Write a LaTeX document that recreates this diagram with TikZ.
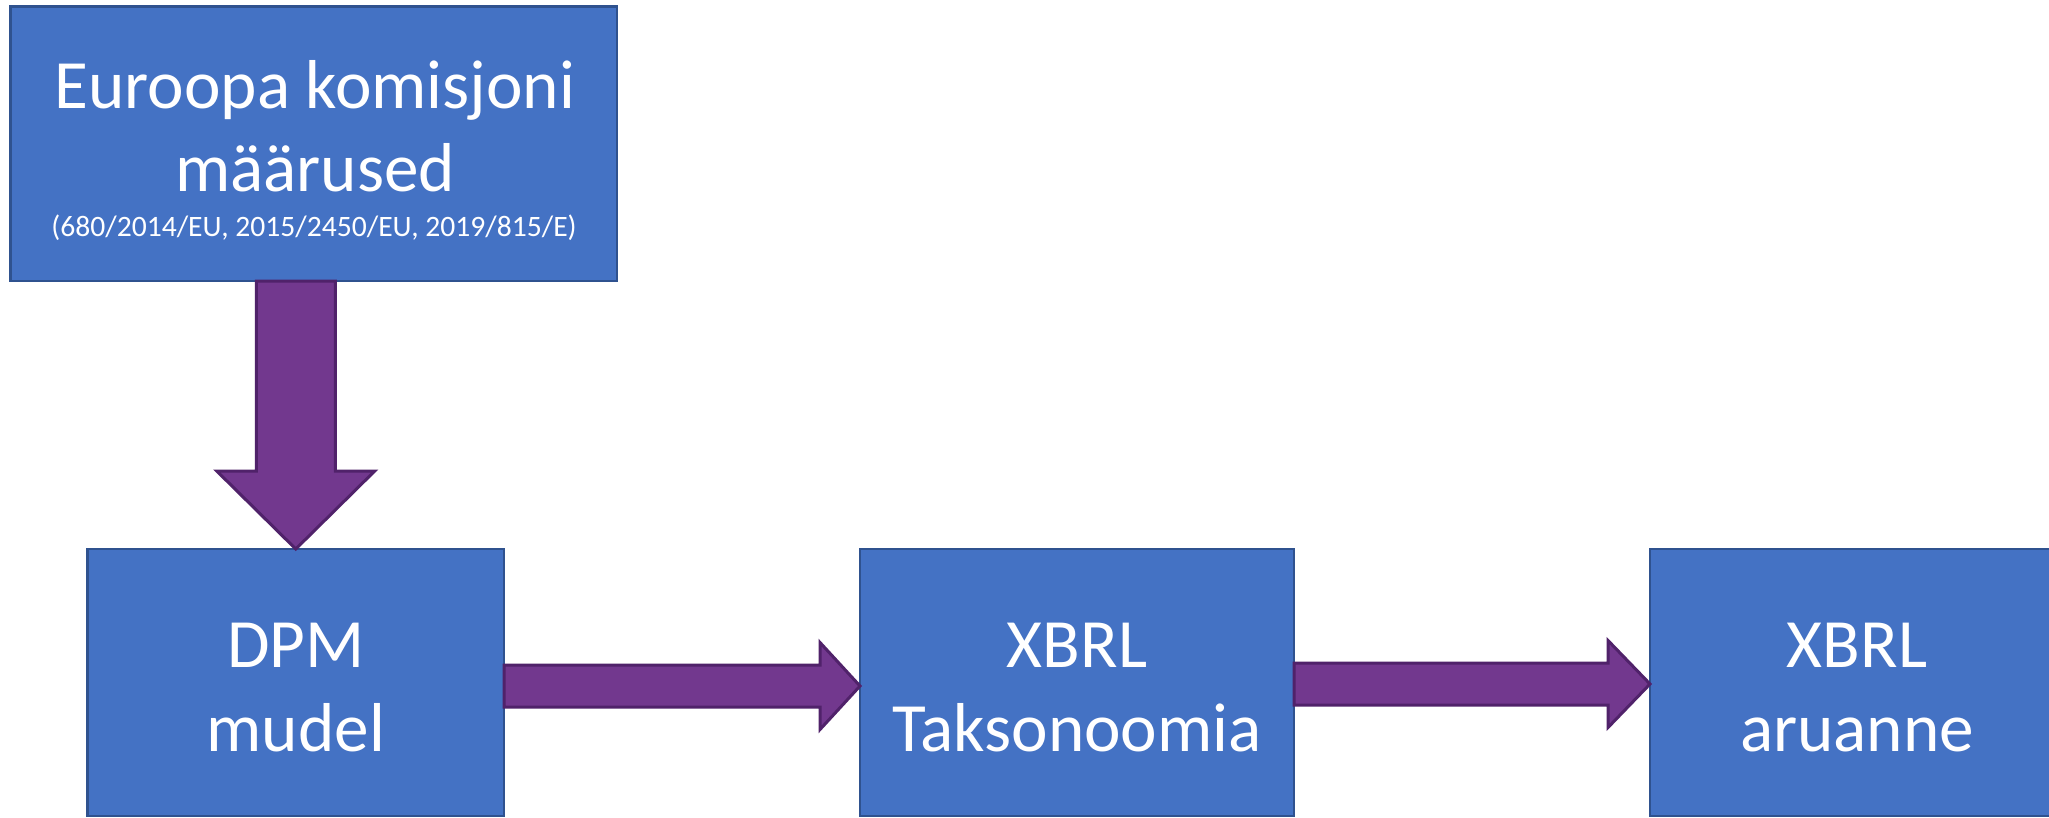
\documentclass[tikz,border=0pt]{standalone}
\usepackage{fontspec}
\setmainfont{Carlito}
\usetikzlibrary{calc}
\definecolor{boxfill}{HTML}{4472C4}
\definecolor{boxline}{HTML}{2F528F}
\definecolor{arrfill}{HTML}{72388E}
\definecolor{arrline}{HTML}{50226A}
\tikzset{
  box/.style={draw=boxline, fill=boxfill, line width=1.2pt, rectangle, inner sep=0pt, outer sep=0pt},
  lbl/.style={text=white, inner sep=0pt, anchor=base, font=\fontsize{34.6pt}{42pt}\selectfont},
  small/.style={text=white, inner sep=0pt, anchor=base, font=\fontsize{14.8pt}{18pt}\selectfont},
  blockarrow/.style={draw=arrline, fill=arrfill, line width=1.5pt, line join=miter},
}
\begin{document}
\begin{tikzpicture}[x=0.5pt, y=-0.5pt]
\useasboundingbox (0,0) rectangle (2049,818);
\fill[white] (0,0) rectangle (2049,818);
\clip (0,0) rectangle (2049,818);
% boxes
\node[box, minimum width=303.25pt, minimum height=137.25pt] (top) at (313.75,143.75) {};
\node[box, minimum width=208.25pt, minimum height=133.5pt] (dpm) at (295.75,682.5) {};
\node[box, minimum width=217pt, minimum height=133.5pt] (tax) at (1077,682.5) {};
\node[box, minimum width=207pt, minimum height=133.5pt] (aru) at (1857,682.5) {};
% labels
\node[lbl] (t1) at (315,109) {Euroopa komisjoni};
\node[lbl] (t2) at (315,192) {määrused};
\node[small] (t3) at (314,236) {(680/2014/EU, 2015/2450/EU, 2019/815/E)};
\node[lbl] (d1) at (295.75,667) {DPM};
\node[lbl] (d2) at (295.75,751) {mudel};
\node[lbl] (x1) at (1077,667) {XBRL};
\node[lbl] (x2) at (1077,751) {Taksonoomia};
\node[lbl] (a1) at (1857,667) {XBRL};
\node[lbl] (a2) at (1857,751) {aruanne};
% down arrow
\coordinate (dtip) at (dpm.north);
\coordinate (dtop) at (top.south -| dpm.north);
\draw[blockarrow] (dtip) -- ++(-79,-78) -- ++(39.5,0)
  -- ($(dtop)+(-39.5,0)$) -- ($(dtop)+(39.5,0)$)
  -- ($(dtip)+(39.5,-78)$) -- ++(39.5,0) -- cycle;
% right arrow 1
\coordinate (r1tip) at ($(tax.west)+(0,3.5)$);
\coordinate (r1tail) at (dpm.east |- r1tip);
\draw[blockarrow] (r1tip) -- ++(-40,-43.5) -- ++(0,22.5)
  -- ($(r1tail)+(0,-21)$) -- ($(r1tail)+(0,21)$)
  -- ($(r1tip)+(-40,21)$) -- ++(0,22.5) -- cycle;
% right arrow 2
\coordinate (r2tip) at ($(aru.west)+(0,1.5)$);
\coordinate (r2tail) at (tax.east |- r2tip);
\draw[blockarrow] (r2tip) -- ++(-42,-43.5) -- ++(0,22.5)
  -- ($(r2tail)+(0,-21)$) -- ($(r2tail)+(0,21)$)
  -- ($(r2tip)+(-42,21)$) -- ++(0,22.5) -- cycle;
\end{tikzpicture}
\end{document}
